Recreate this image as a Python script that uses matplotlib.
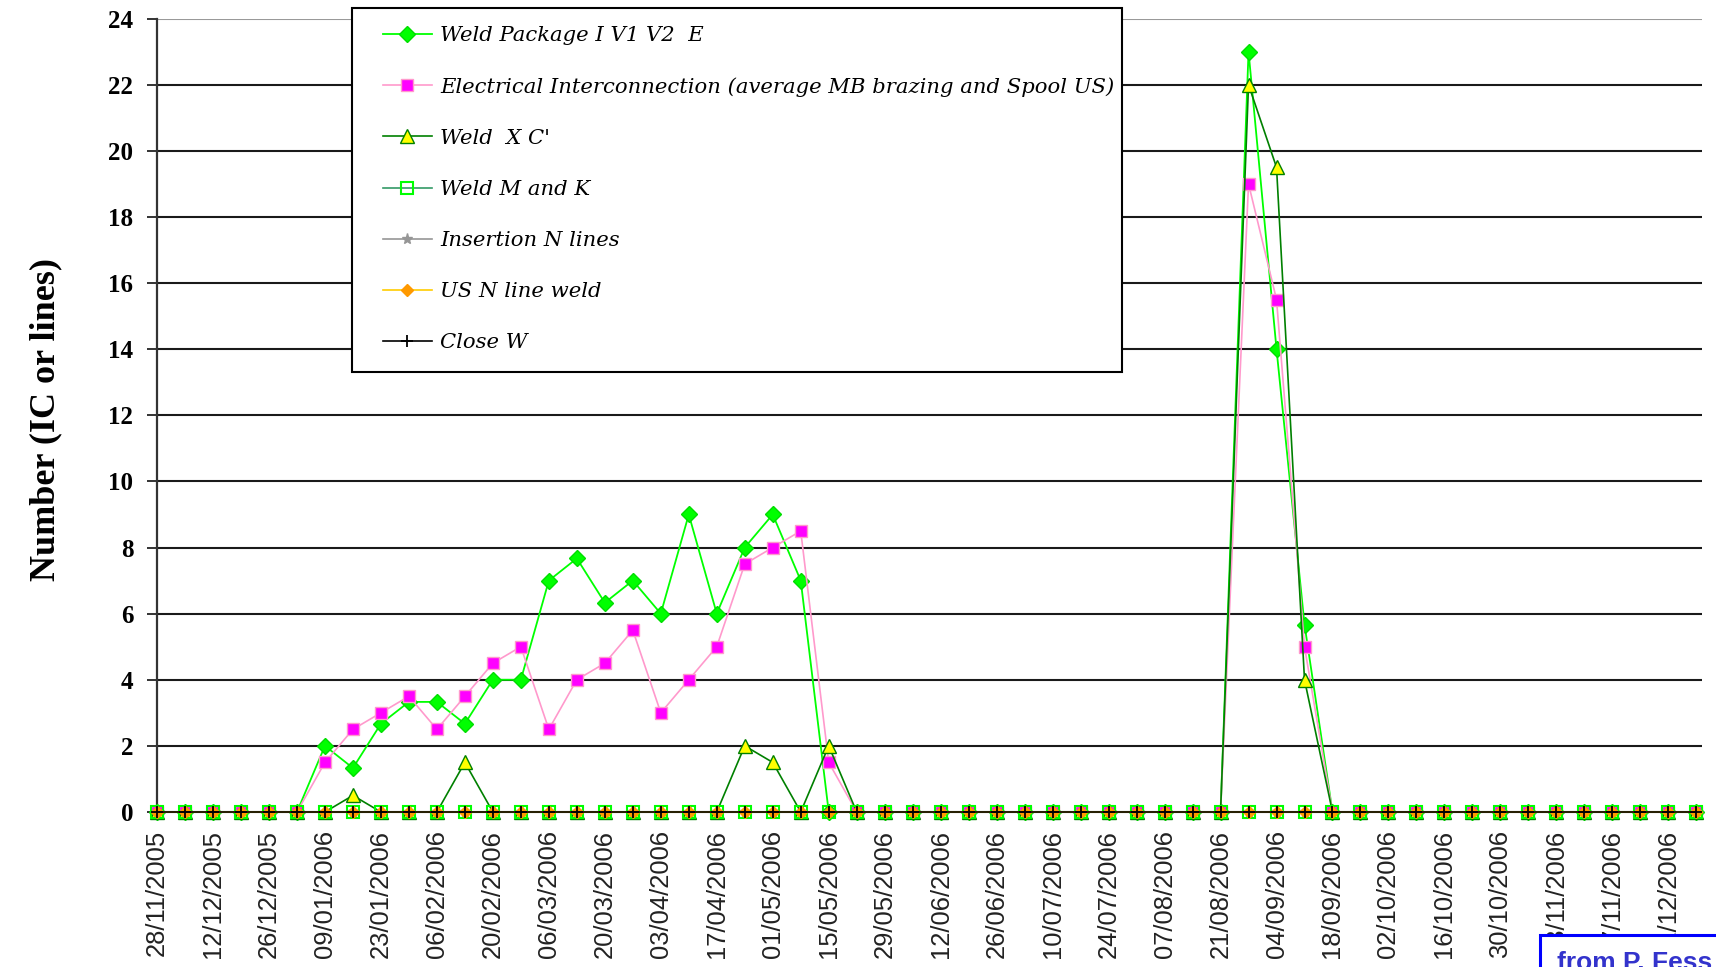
import numpy as np
import matplotlib
matplotlib.use("Agg")
import matplotlib.pyplot as plt
from matplotlib.patches import Rectangle

# weekly categories, a label every two weeks
date_labels = ["28/11/2005", "12/12/2005", "26/12/2005", "09/01/2006", "23/01/2006",
               "06/02/2006", "20/02/2006", "06/03/2006", "20/03/2006", "03/04/2006",
               "17/04/2006", "01/05/2006", "15/05/2006", "29/05/2006", "12/06/2006",
               "26/06/2006", "10/07/2006", "24/07/2006", "07/08/2006", "21/08/2006",
               "04/09/2006", "18/09/2006", "02/10/2006", "16/10/2006", "30/10/2006",
               "13/11/2006", "27/11/2006", "11/12/2006"]

weld_package = [0, 0, 0, 0, 0, 0, 2, 1.33, 2.67, 3.33, 3.33, 2.67, 4, 4, 7, 7.67, 6.33, 7,
                6, 9, 6, 8, 9, 7, 0, 0, 0, 0, 0, 0, 0, 0, 0, 0, 0, 0, 0, 0, 0, 23, 14, 5.67,
                0, 0, 0, 0, 0, 0, 0, 0, 0, 0, 0, 0, 0, 0]
electrical = [0, 0, 0, 0, 0, 0, 1.5, 2.5, 3, 3.5, 2.5, 3.5, 4.5, 5, 2.5, 4, 4.5, 5.5,
              3, 4, 5, 7.5, 8, 8.5, 1.5, 0, 0, 0, 0, 0, 0, 0, 0, 0, 0, 0, 0, 0, 0, 19, 15.5, 5,
              0, 0, 0, 0, 0, 0, 0, 0, 0, 0, 0, 0, 0, 0]
weld_xc = [0, 0, 0, 0, 0, 0, 0, 0.5, 0, 0, 0, 1.5, 0, 0, 0, 0, 0, 0,
           0, 0, 0, 2, 1.5, 0, 2, 0, 0, 0, 0, 0, 0, 0, 0, 0, 0, 0, 0, 0, 0, 22, 19.5, 4,
           0, 0, 0, 0, 0, 0, 0, 0, 0, 0, 0, 0, 0, 0]
weld_mk = [0] * 56
insertion_n = [0] * 56
us_n_weld = [0] * 56
close_w = [0] * 56

fig = plt.figure(figsize=(17.16, 9.67), dpi=100)
ax = fig.add_axes([0.0915, 0.1603, 0.9003, 0.8205])

x = np.arange(len(weld_package))

series = [
    (weld_package, "Weld Package I V1 V2  E", dict(color="#00FF00", lw=1.3, marker="D", ms=8,
                                                   mfc="#00FF00", mec="#00DD00")),
    (electrical, "Electrical Interconnection (average MB brazing and Spool US)",
     dict(color="#FF99CC", lw=1.2, marker="s", ms=8.5, mfc="#FF00FF", mec="#FF99CC")),
    (weld_xc, "Weld  X C'", dict(color="#008000", lw=1.2, marker="^", ms=10,
                                 mfc="#FFFF00", mec="#008000")),
    (weld_mk, "Weld M and K", dict(color="#339966", lw=1.2, marker="s", ms=8.5,
                                   mfc="none", mec="#00FF00", mew=1.5)),
    (insertion_n, "Insertion N lines", dict(color="#969696", lw=1.2, marker="*", ms=8,
                                            mfc="#969696", mec="#969696")),
    (us_n_weld, "US N line weld", dict(color="#FFCC00", lw=1.2, marker="D", ms=6.5,
                                       mfc="#FF9900", mec="#FF9900")),
    (close_w, "Close W", dict(color="black", lw=1.2, marker="+", ms=9, mew=1.3)),
]

for vals, name, style in series:
    ax.plot(x, vals, label=name, clip_on=False, zorder=3, **style)

ax.set_ylim(0, 24)
ax.set_xlim(0, 55.2)
ax.set_yticks(np.arange(0, 25, 2))
ax.set_xticks(x[::2])
ax.set_xticklabels(date_labels, rotation=90, fontsize=18.4, family="Liberation Sans",
                   color="#222222")
for lab in ax.get_yticklabels():
    lab.set_fontfamily("Liberation Serif")
    lab.set_fontweight("bold")
    lab.set_fontsize(18)

# horizontal gridlines, grey line at the top
for v in ax.get_yticks()[1:-1]:
    ax.axhline(v, color="#1a1a1a", lw=1.5, zorder=1)
ax.axhline(24, color="#999999", lw=1.5, zorder=1)

for s in ["top", "right"]:
    ax.spines[s].set_visible(False)
ax.spines["left"].set_color("#333333")
ax.spines["left"].set_linewidth(1.6)
ax.spines["bottom"].set_color("black")
ax.spines["bottom"].set_linewidth(1.5)
ax.tick_params(axis="y", length=7, width=1.4, color="#333333", pad=10)
ax.tick_params(axis="x", length=4, width=1.0, pad=9)

ax.set_ylabel("Number (IC or lines)", fontsize=26, family="Liberation Serif",
              fontweight="bold")
ax.yaxis.set_label_coords(-0.061, 0.495)

# legend box
ax.add_patch(Rectangle((352 / 1716, 1 - 372 / 967), 770 / 1716, 364 / 967,
                       transform=fig.transFigure, facecolor="white", edgecolor="black",
                       lw=1.5, zorder=4.5, clip_on=False))
ax.legend(loc="upper left", bbox_to_anchor=(383 / 1716, 1 - 26 / 967),
          bbox_transform=fig.transFigure, frameon=False, borderpad=0, borderaxespad=0,
          handlelength=2.3, handletextpad=0.4, labelspacing=1.52,
          prop=dict(family="DejaVu Serif", style="italic", size=15.2))

# source box at the bottom right corner
fig.patches.append(Rectangle((1540 / 1716, -0.05), 0.2, (967 - 935) / 967 + 0.05,
                             transform=fig.transFigure, facecolor="white",
                             edgecolor="#0000FF", lw=2.2, zorder=10))
fig.text(1557 / 1716, -3 / 967, "from P. Fess", color="#3333CC", fontsize=19,
         fontweight="bold", family="Liberation Sans", va="baseline", zorder=11)

fig.savefig("out.png", dpi=100)
